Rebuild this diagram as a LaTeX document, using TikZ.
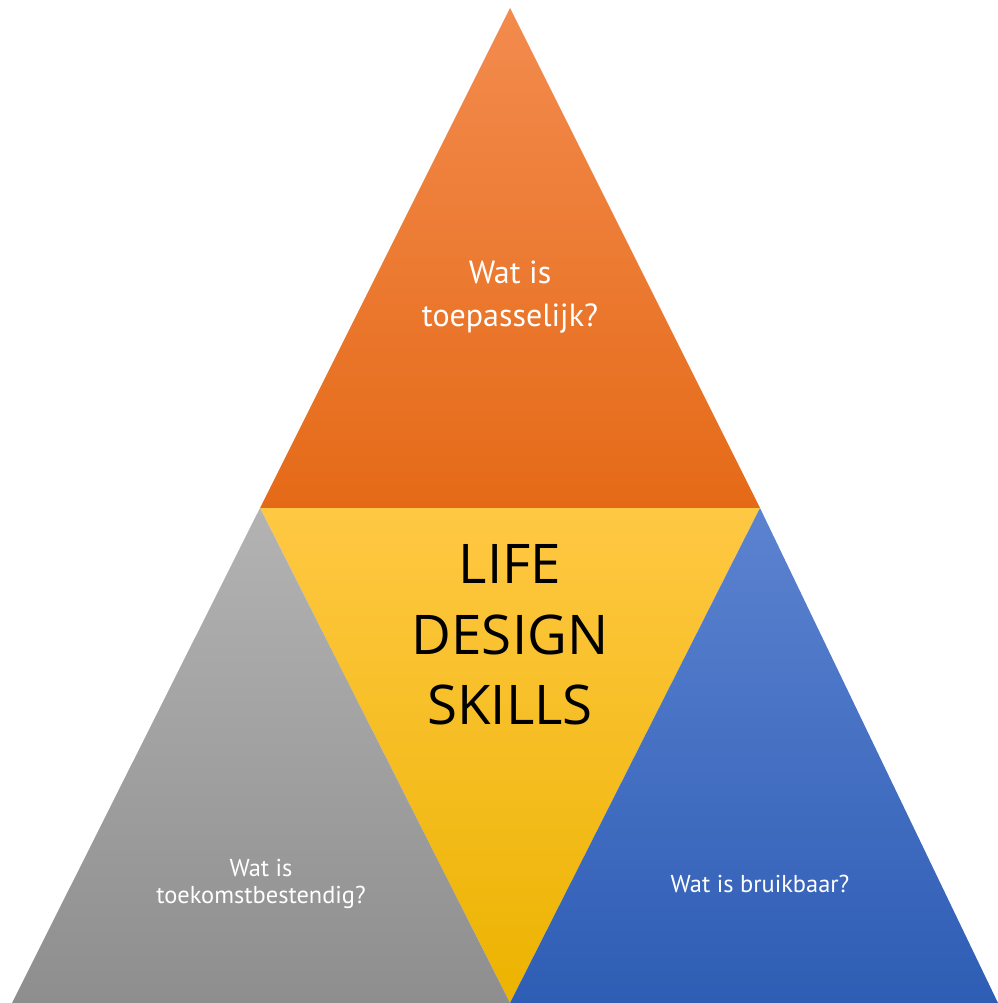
\documentclass[tikz,border=0pt]{standalone}
\usepackage{fontspec}
\setmainfont{PT Sans}
\newfontfamily\bigfont{Open Sans}
\definecolor{orTop}{HTML}{F38B4E}
\definecolor{orBot}{HTML}{E56A17}
\definecolor{yeTop}{HTML}{FFC843}
\definecolor{yeMid}{HTML}{FFC30A}
\definecolor{yeBot}{HTML}{ECB300}
\definecolor{grTop}{HTML}{B3B3B3}
\definecolor{grBot}{HTML}{8E8E8E}
\definecolor{blTop}{HTML}{5C83D0}
\definecolor{blBot}{HTML}{2E5DB5}
\begin{document}
\begin{tikzpicture}[x=0.75pt,y=-0.75pt,
  lbl/.style={text=white,align=center,inner sep=0pt},
  biglbl/.style={text=black,align=center,inner sep=0pt}]
\useasboundingbox (0,0) rectangle (998,1003);
\coordinate (apex) at (510,8);
\coordinate (ml) at (260,508);
\coordinate (mr) at (760,508);
\coordinate (bl) at (12,1003);
\coordinate (bm) at (510,1003);
\coordinate (br) at (998,1003);
\shade[top color=orTop,bottom color=orBot] (apex) -- (mr) -- (ml) -- cycle;
\shade[top color=yeTop,middle color=yeMid,bottom color=yeBot] (ml) -- (mr) -- (bm) -- cycle;
\shade[top color=grTop,bottom color=grBot] (ml) -- (bm) -- (bl) -- cycle;
\shade[top color=blTop,bottom color=blBot] (mr) -- (br) -- (bm) -- cycle;
\node[lbl,font=\fontsize{24}{32}\selectfont] (top) at (510,297) {Wat is\\toepasselijk?};
\node[biglbl,font=\bigfont\fontsize{41}{53}\selectfont] (mid) at (510,635) {LIFE\\DESIGN\\SKILLS};
\node[lbl,font=\fontsize{18.3}{20.5}\selectfont] (left) at (261,884) {Wat is\\toekomstbestendig?};
\node[lbl,font=\fontsize{18.3}{20.5}\selectfont] (right) at (760,884) {Wat is bruikbaar?};
\end{tikzpicture}
\end{document}
